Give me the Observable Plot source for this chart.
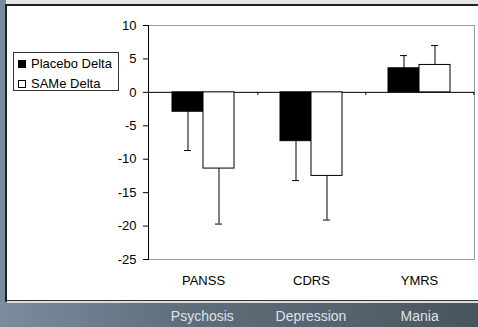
<!DOCTYPE html>
<html>
<head>
<meta charset="utf-8">
<script src="https://cdn.jsdelivr.net/npm/d3@7"></script>
<script src="https://cdn.jsdelivr.net/npm/@observablehq/plot@0.6"></script>
<style>
  html, body { margin: 0; padding: 0; }
  body { width: 478px; height: 327px; overflow: hidden; font-family: "Liberation Sans", Arial, sans-serif; }
  #stage { position: relative; width: 478px; height: 327px;
    background: linear-gradient(90deg, #7a8c9e 0%, #5f6d7a 40%, #55616c 75%, #49535c 100%); }
  #topstrip { position: absolute; left: 6px; top: 0; width: 472px; height: 4px; background: #e4e4e4; }
  #panel { position: absolute; left: 5px; top: 4px; width: 473px; height: 294px; background: #fff;
    border-top: 2px solid #222; border-left: 2px solid #222; border-bottom: 2px solid #333; box-sizing: content-box; }
  #shadow { position: absolute; left: 7px; top: 301px; width: 471px; height: 2px; background: #d8dcdf; }
  .plot { position: absolute; left: 0; top: 0; }
  #legend { position: absolute; left: 13px; top: 52px; width: 104px; height: 37px; border: 1px solid #333; background: #fff; font-size: 13px; color: #000; }
  .item { position: absolute; left: 4px; height: 16px; line-height: 16px; white-space: nowrap; }
  .sw { display: inline-block; width: 8px; height: 8px; margin-right: 5px; vertical-align: 0px; box-sizing: border-box; border: 1px solid #000; }
  .sub { position: absolute; top: 308px; font-size: 14px; color: #dde3ea; transform: translateX(-50%); white-space: nowrap; }
</style>
</head>
<body>
<div id="stage">
  <div id="topstrip"></div>
  <div id="panel"></div>
  <div id="shadow"></div>
</div>
<script>
// ---- data ----
const categories = ["PANSS", "CDRS", "YMRS"];
const subLabels = ["Psychosis", "Depression", "Mania"];
const seriesNames = ["Placebo Delta", "SAMe Delta"];
const placeboValues = [-2.9, -7.3, 3.6];
const sameValues = [-11.4, -12.5, 4.1];
const placeboErrors = [5.8, 5.9, 1.9];
const sameErrors = [8.3, 6.6, 2.9];
const yTicks = [-25, -20, -15, -10, -5, 0, 5, 10];

const rows = [];
categories.forEach((c, i) => {
  rows.push({cat: c, series: seriesNames[0], value: placeboValues[i], err: placeboErrors[i]});
  rows.push({cat: c, series: seriesNames[1], value: sameValues[i], err: sameErrors[i]});
});
const errEnd = d => d.value + Math.sign(d.value) * d.err;

const W = 478, H = 300;
const M = {top: 25, right: 4, bottom: 41, left: 148};
const font = '"Liberation Sans", Arial, sans-serif';
const step = (W - M.left - M.right) / categories.length;

// base plot: frame, axes, zero line
const base = Plot.plot({
  width: W, height: H,
  marginTop: M.top, marginRight: M.right, marginBottom: M.bottom, marginLeft: M.left,
  style: {background: "transparent", fontFamily: font, fontSize: "13px", color: "#000", overflow: "visible"},
  x: {type: "band", domain: categories, padding: 0, axis: null},
  y: {domain: [-25, 10], axis: null},
  marks: [
    Plot.frame({stroke: "#999"}),
    Plot.frame({anchor: "left", stroke: "#000"}),
    Plot.ruleY([0], {stroke: "#000"}),
    Plot.ruleX(categories, {x: d => d, dx: step / 2, y1: 0, y2: -0.45, stroke: "#000"}),
    Plot.axisY(yTicks, {tickSize: 5, tickPadding: 7, fontSize: 13, stroke: "#000", fill: "#000", label: null, tickFormat: d => String(d)}),
    Plot.axisX({tickSize: 0, tickPadding: 16, fontSize: 13, fill: "#000", label: null})
  ]
});
base.classList.add("plot");

// bars plot (faceted by category)
const bars = Plot.plot({
  width: W, height: H,
  marginTop: M.top, marginRight: M.right, marginBottom: M.bottom, marginLeft: M.left,
  style: {background: "transparent", overflow: "visible"},
  facet: {data: rows, x: "cat"},
  fx: {domain: categories, padding: 0, axis: null, label: null},
  x: {domain: seriesNames, paddingInner: 0, paddingOuter: 0.73, axis: null},
  y: {domain: [-25, 10], axis: null},
  color: {domain: seriesNames, range: ["#000", "#fff"]},
  marks: [
    Plot.ruleX(rows, {x: "series", y1: "value", y2: errEnd, stroke: "#000"}),
    Plot.tickY(rows, {x: "series", y: errEnd, stroke: "#000", insetLeft: 12, insetRight: 12}),
    Plot.barY(rows, {x: "series", y: "value", fill: "series", stroke: "#000", strokeWidth: 1})
  ]
});
bars.classList.add("plot");

const stage = document.getElementById("stage");
stage.appendChild(base);
stage.appendChild(bars);

// legend
const legend = document.createElement("div");
legend.id = "legend";
seriesNames.forEach((s, i) => {
  const it = document.createElement("div");
  it.className = "item";
  it.style.top = (3 + i * 20) + "px";
  const sw = document.createElement("span");
  sw.className = "sw";
  sw.style.background = i === 0 ? "#000" : "#fff";
  it.appendChild(sw);
  it.appendChild(document.createTextNode(s));
  legend.appendChild(it);
});
stage.appendChild(legend);

// sub-labels under categories
subLabels.forEach((s, i) => {
  const d = document.createElement("div");
  d.className = "sub";
  d.style.left = (M.left + step * (i + 0.5)) + "px";
  d.textContent = s;
  stage.appendChild(d);
});
</script>
</body>
</html>
